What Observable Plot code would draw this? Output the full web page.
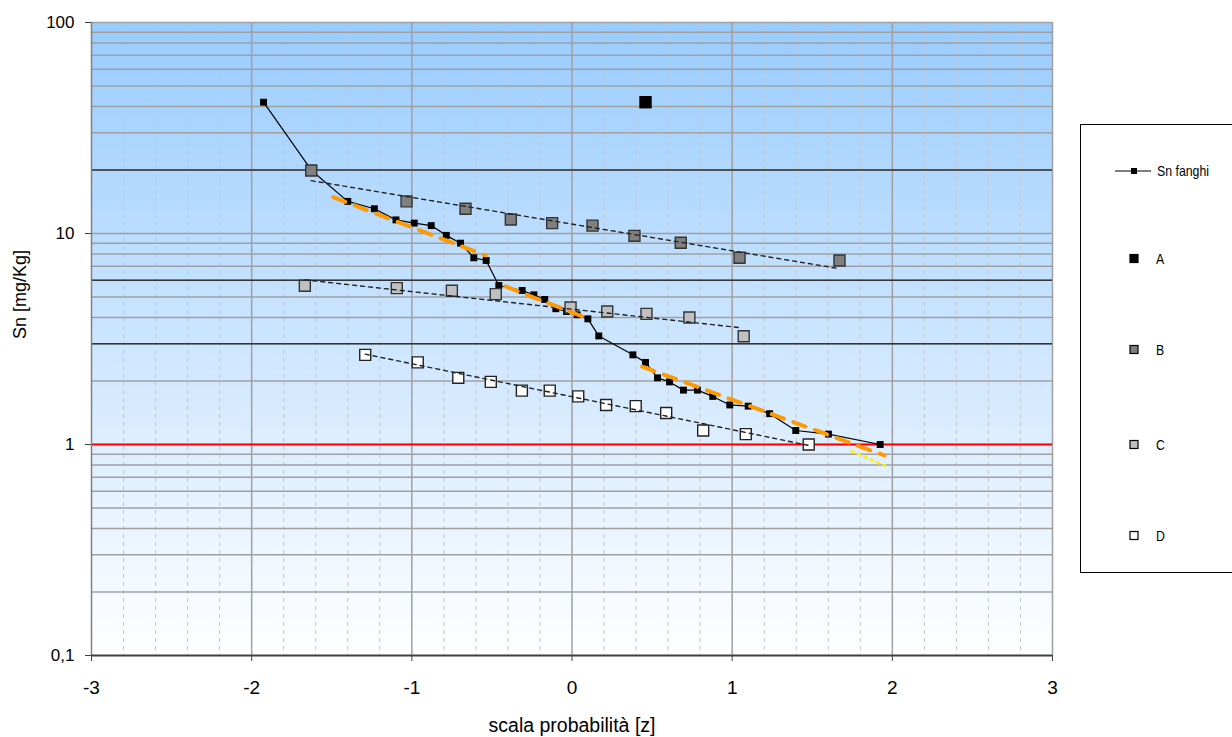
<!DOCTYPE html>
<html><head><meta charset="utf-8">
<script src="https://cdn.jsdelivr.net/npm/d3@7"></script>
<script src="https://cdn.jsdelivr.net/npm/@observablehq/plot@0.6"></script>
<style>
body{margin:0;background:#fff;overflow:hidden;}
#wrap{position:relative;width:1232px;height:737px;}
#legend{position:absolute;left:1080px;top:124px;width:170px;height:447px;border:1px solid #000;background:#fff;
 font-family:"Liberation Sans",Arial,sans-serif;font-size:15px;color:#000;}
.item{position:absolute;left:0;height:20px;width:160px;}
.item svg{position:absolute;left:30px;top:0;}
.item span{position:absolute;left:76px;top:1px;line-height:18px;display:inline-block;white-space:nowrap;transform:scaleX(0.82);transform-origin:left center;}
</style></head>
<body><div id="wrap"><div id="chart"></div><div id="legend"></div></div>
<script>
// Sn fanghi (all values, normal probability scale)
const snZ = [-1.926,-1.626,-1.400,-1.234,-1.099,-0.985,-0.879,-0.785,-0.696,-0.613,-0.536,-0.457,-0.311,-0.238,-0.170,-0.101,-0.034,0.032,0.099,0.167,0.380,0.459,0.534,0.609,0.696,0.783,0.879,0.985,1.100,1.234,1.397,1.601,1.924];
const snVal = [41.9,19.9,14.2,13.1,11.6,11.2,10.9,9.8,9.0,7.67,7.45,5.67,5.37,5.12,4.87,4.40,4.27,4.12,3.94,3.27,2.66,2.45,2.07,1.98,1.81,1.81,1.69,1.54,1.52,1.40,1.165,1.12,1.0];
// groups
const aZ = [0.459];
const aVal = [41.9];
const bZ = [-1.628,-1.033,-0.665,-0.382,-0.124,0.128,0.390,0.679,1.046,1.670];
const bVal = [19.9,14.2,13.1,11.65,11.2,10.9,9.75,9.04,7.67,7.45];
const cZ = [-1.668,-1.094,-0.750,-0.476,-0.009,0.220,0.465,0.733,1.072];
const cVal = [5.65,5.51,5.35,5.16,4.46,4.27,4.16,4.00,3.26];
const dZ = [-1.291,-0.963,-0.710,-0.507,-0.313,-0.139,0.039,0.213,0.398,0.588,0.819,1.085,1.478];
const dVal = [2.66,2.45,2.07,1.98,1.80,1.80,1.69,1.54,1.52,1.41,1.165,1.12,1.0];
// trend lines of groups
const bTrendZ = [-1.628,1.65];
const bTrendVal = [17.8,6.85];
const cTrendZ = [-1.668,1.062];
const cTrendVal = [6.03,3.57];
const dTrendZ = [-1.291,1.478];
const dTrendVal = [2.68,0.99];
// orange fitted segments
const orangeSeg = [1,1,2,2,3,3];
const orangeZ = [-1.491,-0.540,-0.415,0.115,0.438,1.951];
const orangeVal = [14.86,7.87,5.61,3.91,2.34,0.887];
// yellow dotted tail
const yellowZ = [1.745,1.955];
const yellowVal = [0.93,0.793];
// reference levels
const limitVals = [20,6,3];
const redVal = [1];
// axes
const xTicks = [-3,-2,-1,0,1,2,3];
const yTicks = [0.1,1,10,100];
const yTickLabels = ["0,1","1","10","100"];
const gridY = [0.2,0.3,0.4,0.5,0.6,0.7,0.8,0.9,1,2,3,4,5,6,7,8,9,10,20,30,40,50,60,70,80,90,100];
const minorX = [-2.8,-2.6,-2.4,-2.2,-1.8,-1.6,-1.4,-1.2,-0.8,-0.6,-0.4,-0.2,0.2,0.4,0.6,0.8,1.2,1.4,1.6,1.8,2.2,2.4,2.6,2.8];
const majorX = [-2,-1,0,1,2,3];
// legend
const legendLabels = ["Sn fanghi","A","B","C","D"];

const rows = (zs, vs, extra) => zs.map((z,i) => ({z, v: vs[i], g: extra ? extra[i] : 0}));
const sn = rows(snZ, snVal), A = rows(aZ, aVal), B = rows(bZ, bVal), C = rows(cZ, cVal), D = rows(dZ, dVal);
const bT = rows(bTrendZ, bTrendVal), cT = rows(cTrendZ, cTrendVal), dT = rows(dTrendZ, dTrendVal);
const orange = rows(orangeZ, orangeVal, orangeSeg), yellow = rows(yellowZ, yellowVal);

const svg = Plot.plot({
  width: 1232, height: 737,
  marginLeft: 91, marginRight: 180, marginTop: 22, marginBottom: 82,
  style: {fontFamily: "'Liberation Sans',Arial,sans-serif", fontSize: "17px", color: "#000", background: "transparent", overflow: "visible"},
  x: {domain: [-3,3]},
  y: {type: "log", domain: [0.1,100]},
  marks: [
    Plot.frame({fill: "url(#bgGrad)", stroke: null}),
    Plot.ruleX(minorX, {stroke: "#c6c6c6", strokeWidth: 1, strokeDasharray: "4,4"}),
    Plot.ruleX(majorX, {stroke: "#a0a0a0", strokeWidth: 1.5}),
    Plot.ruleY(gridY, {stroke: "#a0a0a0", strokeWidth: 1.5}),
    Plot.ruleY(limitVals, {stroke: "#333", strokeWidth: 1.5}),
    Plot.ruleY(redVal, {stroke: "#ff0000", strokeWidth: 2}),
    Plot.ruleX([-3], {stroke: "#808080", strokeWidth: 1.5}),
    Plot.ruleY([0.1], {stroke: "#404040", strokeWidth: 2}),
    Plot.axisY({ticks: yTicks, tickFormat: d => yTickLabels[yTicks.indexOf(d)], tickSize: 6, tickPadding: 11, fontSize: 17, stroke: "#404040", label: null}),
    Plot.axisX({ticks: xTicks, tickFormat: d => String(d), tickSize: 6, tickPadding: 19, fontSize: 19, stroke: "#404040", label: null}),
    Plot.text(["scala probabilità [z]"], {frameAnchor: "bottom", dy: 76, lineAnchor: "bottom", fontSize: 19.5}),
    Plot.text(["Sn [mg/Kg]"], {frameAnchor: "left", dx: -71, rotate: -90, fontSize: 18, ariaLabel: "ytitle"}),
    Plot.line(sn, {x: "z", y: "v", stroke: "#000", strokeWidth: 1.2}),
    Plot.dot(sn, {x: "z", y: "v", symbol: "square", r: 3.9, fill: "#000", stroke: null}),
    Plot.dot(A, {x: "z", y: "v", symbol: "square", r: 7, fill: "#000", stroke: null}),
    Plot.dot(B, {x: "z", y: "v", symbol: "square", r: 6.2, fill: "#808080", stroke: "#333", strokeWidth: 1.4}),
    Plot.dot(C, {x: "z", y: "v", symbol: "square", r: 6.2, fill: "#c0c0c0", stroke: "#333", strokeWidth: 1.4}),
    Plot.dot(D, {x: "z", y: "v", symbol: "square", r: 6.2, fill: "#fff", stroke: "#222", strokeWidth: 1.4}),
    Plot.line(bT, {x: "z", y: "v", stroke: "#222", strokeWidth: 1.4, strokeDasharray: "4,4"}),
    Plot.line(cT, {x: "z", y: "v", stroke: "#222", strokeWidth: 1.4, strokeDasharray: "4,4"}),
    Plot.line(dT, {x: "z", y: "v", stroke: "#222", strokeWidth: 1.4, strokeDasharray: "4,4"}),
    Plot.line(orange, {x: "z", y: "v", z: "g", stroke: "#ff9900", strokeWidth: 4, strokeDasharray: "13,10"}),
    Plot.line(yellow, {x: "z", y: "v", stroke: "#ffee00", strokeWidth: 2.5, strokeDasharray: "2.5,4.5"})
  ]
});
const defs = d3.select(svg).insert("defs", ":first-child");
const lg = defs.append("linearGradient").attr("id", "bgGrad").attr("x1", 0).attr("y1", 0).attr("x2", 0).attr("y2", 1);
lg.append("stop").attr("offset", "0%").attr("stop-color", "#99ccff");
lg.append("stop").attr("offset", "100%").attr("stop-color", "#ffffff");
d3.select(svg).selectAll('[aria-label="ytitle"] text').attr("textLength", 112).attr("lengthAdjust", "spacingAndGlyphs");
document.getElementById("chart").appendChild(svg);

// legend
const legendTops = [36, 124, 215, 310, 401];
const legendFills = [null, "#000", "#808080", "#c0c0c0", "#fff"];
const leg = document.getElementById("legend");
legendLabels.forEach((lab, i) => {
  const div = document.createElement("div");
  div.className = "item";
  div.style.top = legendTops[i] + "px";
  let icon;
  if (i === 0) {
    icon = '<svg width="40" height="20"><line x1="4" y1="10" x2="41" y2="10" stroke="#000" stroke-width="1.2"/><rect x="20" y="7" width="6" height="6" fill="#000"/></svg>';
  } else {
    icon = `<svg width="40" height="20"><rect x="19" y="5.5" width="8" height="8" fill="${legendFills[i]}" stroke="#000" stroke-width="1.2"/></svg>`;
  }
  div.innerHTML = icon + `<span style="left:${i === 0 ? 76 : 75}px">${lab}</span>`;
  leg.appendChild(div);
});
</script>
</body></html>
